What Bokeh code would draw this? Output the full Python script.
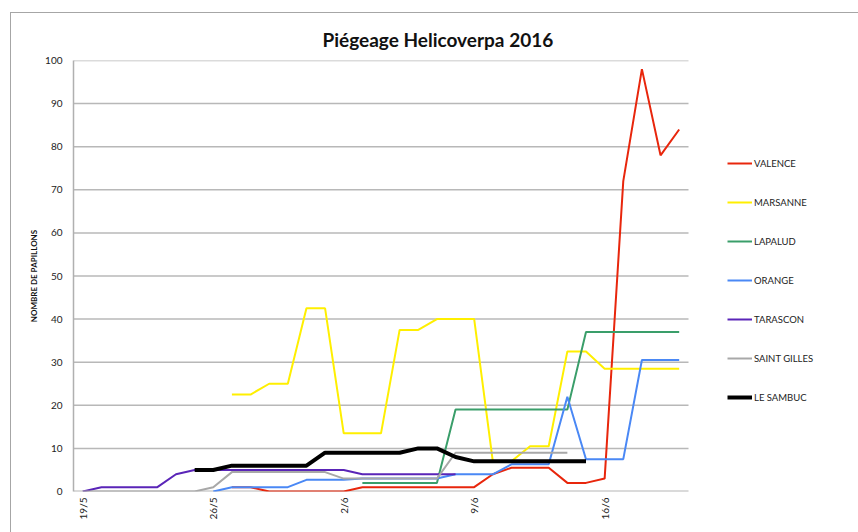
import numpy as np
from bokeh.plotting import figure
from bokeh.models import Legend, LegendItem, Range1d, Title
from bokeh.embed import file_html
from bokeh.resources import INLINE

N = None
dates = ["19/5", "20/5", "21/5", "22/5", "23/5", "24/5", "25/5", "26/5", "27/5", "28/5",
         "29/5", "30/5", "31/5", "1/6", "2/6", "3/6", "4/6", "5/6", "6/6", "7/6", "8/6",
         "9/6", "10/6", "11/6", "12/6", "13/6", "14/6", "15/6", "16/6", "17/6", "18/6",
         "19/6", "20/6"]
tick_every = 7
y_ticks = list(range(0, 101, 10))

valence = [N] * 8 + [1, 1, 0, 0, 0, 0, 0, 1, 1, 1, 1, 1, 1, 1, 4, 5.5, 5.5, 5.5, 2, 2, 3, 72, 98, 78, 84]
marsanne = [N] * 8 + [22.5, 22.5, 25, 25, 42.5, 42.5, 13.5, 13.5, 13.5, 37.5, 37.5, 40, 40, 40,
                      7, 7, 10.5, 10.5, 32.5, 32.5, 28.5, 28.5, 28.5, 28.5, 28.5]
lapalud = [N] * 15 + [2, 2, 2, 2, 2, 19, 19, 19, 19, 19, 19, 19, 37, 37, 37, 37, 37, 37]
orange = [N] * 7 + [0, 1, 1, 1, 1, 2.7, 2.7, 2.7, 3, 3, 3, 3, 3, 4, 4, 4, 6.3, 6.3, 6.3, 22,
                    7.5, 7.5, 7.5, 30.5, 30.5, 30.5]
tarascon = [0, 1, 1, 1, 1, 4, 5, 5, 5, 5, 5, 5, 5, 5, 5, 4, 4, 4, 4, 4, 4] + [N] * 12
saint_gilles = [0, 0, 0, 0, 0, 0, 0, 1, 4.5, 4.5, 4.5, 4.5, 4.5, 4.5, 3, 3, 3, 3, 3, 3,
                9, 9, 9, 9, 9, 9, 9] + [N] * 6
le_sambuc = [N] * 6 + [5, 5, 6, 6, 6, 6, 6, 9, 9, 9, 9, 9, 10, 10, 8, 7, 7, 7, 7, 7, 7, 7] + [N] * 5

series_names = ["VALENCE", "MARSANNE", "LAPALUD", "ORANGE", "TARASCON", "SAINT GILLES", "LE SAMBUC"]
series_values = [valence, marsanne, lapalud, orange, tarascon, saint_gilles, le_sambuc]
series_colors = ["#e8260c", "#ffef00", "#3a9e6a", "#4a88f5", "#5a25b8", "#a8a8a8", "#000000"]
series_widths = [2, 2, 2, 2, 2, 2, 4]

FONT = "Lato"

# chart box: thin border starting at (10, 12) of the page
box_left, box_top = 10, 12

n = len(dates)
x0, x1 = -0.5, n - 0.5
px_per_day = 615 / n
frame_w = 781
x_end = x0 + frame_w / px_per_day

p = figure(frame_width=frame_w, frame_height=431, output_backend="svg", toolbar_location=None,
           x_range=Range1d(x0, x_end), y_range=Range1d(0, 100),
           min_border_left=73 - box_left - 1, min_border_right=4,
           min_border_top=60 - box_top - 1, min_border_bottom=41)
p.styles = {"margin-left": f"{box_left}px", "margin-top": f"{box_top}px",
            "border-left": "1px solid #a6a6a6", "border-top": "1px solid #a6a6a6"}
p.outline_line_color = None
p.background_fill_color = "white"
p.border_fill_color = "white"

title = Title(text="Piégeage Helicoverpa 2016", align="left", text_font=FONT,
              text_font_size="19px", text_font_style="bold", text_color="#111111",
              offset=249, standoff=20)
p.add_layout(title, "above")

grid_y = [t for t in y_ticks if t > 0]
p.segment(x0=[x0] * len(grid_y), x1=[x1] * len(grid_y), y0=grid_y, y1=grid_y,
          line_color="#b8b8b8", line_width=1.5)
p.segment(x0=[x0], x1=[x1], y0=[0], y1=[0], line_color="#b5b5b5", line_width=2)

x = np.arange(n)
items = []
for name, vals, col, w in zip(series_names, series_values, series_colors, series_widths):
    y = np.array([np.nan if v is None else v for v in vals], dtype=float)
    r = p.line(x, y, line_color=col, line_width=w)
    items.append(LegendItem(label=name, renderers=[r]))

legend = Legend(items=items, location=(654, 84), orientation="vertical",
                label_text_font=FONT, label_text_font_size="9.5px", label_text_color="#222222",
                glyph_width=25, glyph_height=20, label_height=20, spacing=19,
                label_standoff=2, padding=0, margin=0, border_line_color=None,
                background_fill_alpha=0)
p.add_layout(legend)

# y axis
p.yaxis.ticker = y_ticks
p.yaxis.axis_label = "NOMBRE DE PAPILLONS"
p.yaxis.axis_label_text_font = FONT
p.yaxis.axis_label_text_font_size = "8px"
p.yaxis.axis_label_text_font_style = "bold"
p.yaxis.axis_label_text_color = "#111111"
p.yaxis.axis_label_standoff = 3
p.yaxis.major_label_text_font = FONT
p.yaxis.major_label_text_font_size = "10px"
p.yaxis.major_label_text_color = "#222222"
p.yaxis.major_tick_line_color = None
p.yaxis.minor_tick_line_color = None
p.yaxis.major_tick_out = 0
p.yaxis.major_label_standoff = 11
p.yaxis.axis_line_color = "#b0b0b0"
p.yaxis.axis_line_width = 1.5

# x axis
tick_pos = list(range(0, n, tick_every))
p.xaxis.ticker = tick_pos
p.xaxis.major_label_overrides = {i: dates[i] for i in tick_pos}
p.xaxis.major_label_orientation = np.pi / 2
p.xaxis.major_label_text_font = FONT
p.xaxis.major_label_text_font_size = "10px"
p.xaxis.major_label_text_color = "#222222"
p.xaxis.major_tick_line_color = None
p.xaxis.minor_tick_line_color = None
p.xaxis.major_tick_out = 0
p.xaxis.major_label_standoff = 6
p.xaxis.axis_line_color = None

p.xgrid.grid_line_color = None
p.ygrid.grid_line_color = None

open("out.html", "w").write(file_html(p, INLINE))
